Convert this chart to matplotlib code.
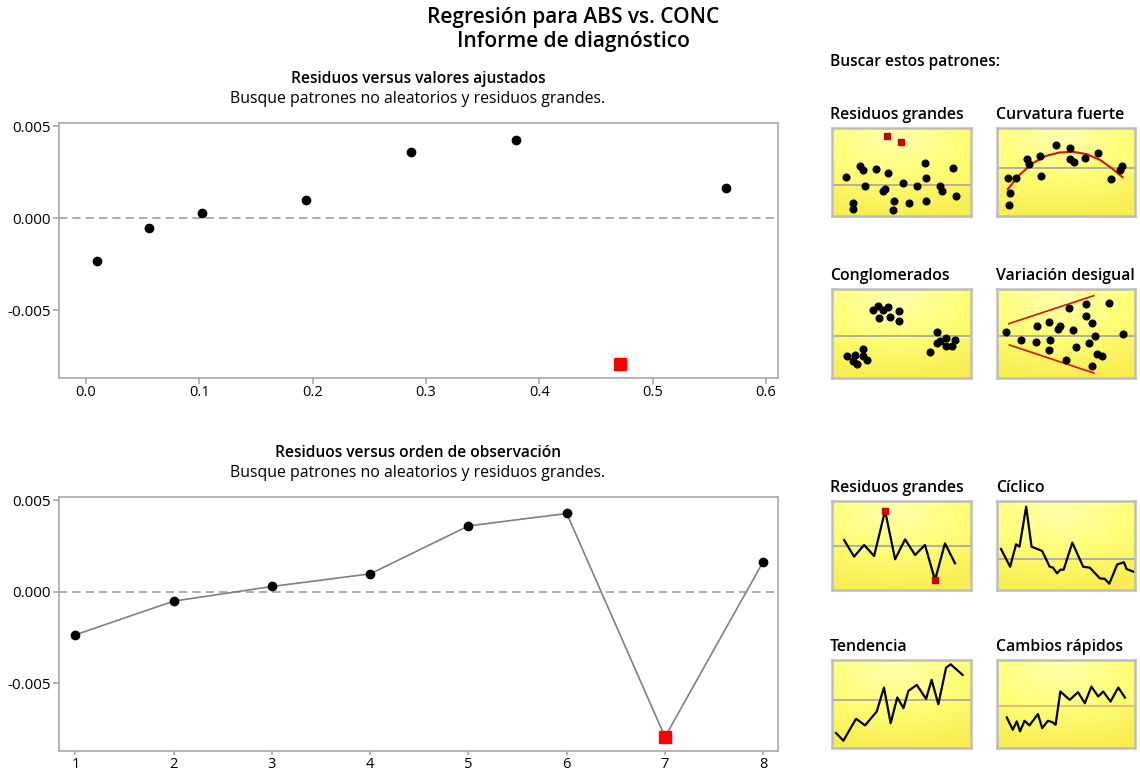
import numpy as np
import matplotlib
matplotlib.use("Agg")
import matplotlib.pyplot as plt
from matplotlib.colors import LinearSegmentedColormap

plt.rcParams['font.family'] = ['Open Sans', 'DejaVu Sans']

# Main data: residuals vs fitted values and observation order
fitted = [0.0102, 0.0561, 0.1023, 0.1943, 0.2871, 0.3795, 0.4714, 0.5647]
residuals = [-0.00235, -0.00051, 0.00029, 0.00098, 0.00360, 0.00428, -0.00793, 0.00165]
order = [1, 2, 3, 4, 5, 6, 7, 8]
large_idx = [6]  # observation flagged as large residual

# Pattern thumbnails (relative coordinates)
rg_x = [0.103, 0.156, 0.156, 0.204, 0.228, 0.240, 0.319, 0.372, 0.384, 0.408, 0.448,
        0.444, 0.511, 0.554, 0.612, 0.671, 0.679, 0.676, 0.779, 0.791, 0.871, 0.892]
rg_y = [0.441, 0.144, 0.076, 0.570, 0.525, 0.342, 0.532, 0.289, 0.304, 0.487, 0.175,
        0.068, 0.373, 0.144, 0.342, 0.601, 0.437, 0.175, 0.342, 0.289, 0.540, 0.228]
rg_red_x = [0.396, 0.501]
rg_red_y = [0.913, 0.844]

cv_x = [0.080, 0.087, 0.097, 0.140, 0.218, 0.237, 0.315, 0.320, 0.426, 0.533, 0.533,
        0.557, 0.637, 0.734, 0.823, 0.891, 0.906]
cv_y = [0.430, 0.122, 0.259, 0.433, 0.646, 0.593, 0.677, 0.456, 0.806, 0.768, 0.646,
        0.608, 0.654, 0.715, 0.426, 0.525, 0.563]
cv_curve_x = [0.080, 0.165, 0.262, 0.358, 0.455, 0.552, 0.649, 0.746, 0.831, 0.910]
cv_curve_y = [0.304, 0.468, 0.601, 0.684, 0.722, 0.730, 0.703, 0.639, 0.544, 0.441]

cl_x = [0.295, 0.336, 0.372, 0.408, 0.343, 0.420, 0.487, 0.482, 0.108, 0.168, 0.228,
        0.151, 0.185, 0.252, 0.223, 0.755, 0.707, 0.760, 0.823, 0.887, 0.823, 0.866, 0.779]
cl_y = [0.760, 0.813, 0.760, 0.798, 0.674, 0.685, 0.753, 0.637, 0.251, 0.258, 0.326,
        0.187, 0.161, 0.206, 0.243, 0.513, 0.296, 0.393, 0.446, 0.423, 0.356, 0.356, 0.416]

vd_x = [0.068, 0.177, 0.281, 0.291, 0.378, 0.383, 0.378, 0.443, 0.455, 0.499, 0.523,
        0.552, 0.571, 0.649, 0.649, 0.668, 0.692, 0.712, 0.692, 0.722, 0.758, 0.809, 0.915]
vd_y = [0.513, 0.423, 0.401, 0.581, 0.625, 0.423, 0.318, 0.551, 0.581, 0.206, 0.783,
        0.543, 0.348, 0.835, 0.693, 0.393, 0.618, 0.476, 0.139, 0.273, 0.251, 0.843, 0.498]
vd_up_x, vd_up_y = [0.087, 0.702], [0.610, 0.925]
vd_lo_x, vd_lo_y = [0.092, 0.702], [0.371, 0.056]

og_x = [0.089, 0.161, 0.233, 0.305, 0.384, 0.456, 0.528, 0.600, 0.671, 0.743, 0.815, 0.887]
og_y = [0.562, 0.375, 0.506, 0.382, 0.891, 0.345, 0.569, 0.393, 0.506, 0.112, 0.524, 0.300]
og_red = [4, 9]

cy_x = [0.031, 0.097, 0.140, 0.165, 0.213, 0.252, 0.329, 0.383, 0.407, 0.436, 0.460,
        0.484, 0.547, 0.625, 0.673, 0.746, 0.782, 0.814, 0.872, 0.920, 0.939, 0.988]
cy_y = [0.461, 0.262, 0.513, 0.487, 0.936, 0.487, 0.438, 0.262, 0.251, 0.187, 0.228,
        0.228, 0.532, 0.262, 0.251, 0.131, 0.124, 0.071, 0.288, 0.311, 0.236, 0.206]

tr_x = [0.031, 0.084, 0.175, 0.240, 0.324, 0.376, 0.424, 0.472, 0.516, 0.552, 0.612,
        0.679, 0.719, 0.767, 0.823, 0.856, 0.942]
tr_y = [0.170, 0.083, 0.332, 0.257, 0.415, 0.687, 0.283, 0.574, 0.453, 0.649, 0.717,
        0.558, 0.774, 0.498, 0.913, 0.951, 0.830]

cr_x = [0.073, 0.116, 0.145, 0.169, 0.201, 0.237, 0.298, 0.329, 0.370, 0.402, 0.426,
        0.460, 0.528, 0.588, 0.637, 0.685, 0.734, 0.770, 0.823, 0.879, 0.927]
cr_y = [0.347, 0.208, 0.302, 0.189, 0.309, 0.257, 0.385, 0.226, 0.309, 0.294, 0.264,
        0.642, 0.547, 0.634, 0.509, 0.698, 0.585, 0.642, 0.528, 0.687, 0.574]

W, H = 1140, 773
fig = plt.figure(figsize=(W / 100, H / 100), dpi=100)


def fx(px):
    return px / W


def fy(py):
    return 1 - py / H


GRID = '#A8A8A8'

fig.text(fx(573), fy(18), 'Regresión para ABS vs. CONC', ha='center', va='center',
         fontsize=15, fontweight='semibold')
fig.text(fx(573), fy(42), 'Informe de diagnóstico', ha='center', va='center',
         fontsize=15, fontweight='semibold')


def style_main(ax):
    for s in ax.spines.values():
        s.set_color(GRID)
        s.set_linewidth(1.2)
    ax.tick_params(colors=GRID, labelcolor='black', length=4, width=1.2, pad=2)
    ax.tick_params(axis='y', labelsize=11)
    ax.tick_params(axis='x', labelsize=10.5, pad=1)
    ax.axhline(0, color='#A0A0A0', lw=1.2, ls=(0, (5, 3)), zorder=1)
    ax.set_ylim(-0.0087, 0.00518)
    ax.set_yticks([-0.005, 0.0, 0.005])
    ax.set_yticklabels(['-0.005', '0.000', '0.005'])


# Top: residuals vs fitted
ax1 = fig.add_axes([fx(59), fy(378), fx(778 - 59), (378 - 123) / H])
style_main(ax1)
norm = [i for i in range(len(fitted)) if i not in large_idx]
ax1.plot([fitted[i] for i in norm], [residuals[i] for i in norm], 'o', color='black',
         ms=6, zorder=3)
ax1.plot([fitted[i] for i in large_idx], [residuals[i] for i in large_idx], 's',
         color='red', ms=8, zorder=3)
ax1.set_xlim(-0.0236, 0.6105)
ax1.set_xticks([0.0, 0.1, 0.2, 0.3, 0.4, 0.5, 0.6])
ax1.set_xticklabels(['0.0', '0.1', '0.2', '0.3', '0.4', '0.5', '0.6'])
fig.text(fx(418), fy(79), 'Residuos versus valores ajustados', ha='center', va='center',
         fontsize=11.2, fontweight='semibold')
fig.text(fx(418), fy(99), 'Busque patrones no aleatorios y residuos grandes.',
         ha='center', va='center', fontsize=11.4)

# Bottom: residuals vs order
ax2 = fig.add_axes([fx(59), fy(751), fx(778 - 59), (751 - 497) / H])
style_main(ax2)
ax2.plot(order, residuals, '-', color='#808080', lw=1.2, zorder=2)
ax2.plot([order[i] for i in norm], [residuals[i] for i in norm], 'o', color='black',
         ms=6, zorder=3)
ax2.plot([order[i] for i in large_idx], [residuals[i] for i in large_idx], 's',
         color='red', ms=8, zorder=3)
ax2.set_xlim(0.833, 8.15)
ax2.set_xticks(order)
ax2.tick_params(axis='x', length=3)
fig.text(fx(418), fy(453), 'Residuos versus orden de observación', ha='center',
         va='center', fontsize=11.2, fontweight='semibold')
fig.text(fx(418), fy(473), 'Busque patrones no aleatorios y residuos grandes.',
         ha='center', va='center', fontsize=11.4)

# Right panel
fig.text(fx(830), fy(62), 'Buscar estos patrones:', ha='left', va='center',
         fontsize=11.2, fontweight='semibold')

yel = LinearSegmentedColormap.from_list('yel', ['#FFFFAC', '#FFFF78', '#F8EE52'])
gx, gy = np.meshgrid(np.linspace(0, 1, 120), np.linspace(0, 1, 80))
grad = np.sqrt(((gx - 0.45) / 1.0) ** 2 + ((gy - 0.1) / 0.9) ** 2)


def thumb(x0, y0, x1, y1, title, midline, mid_color='#B0B0A0'):
    ax = fig.add_axes([fx(x0), fy(y1), fx(x1 - x0), (y1 - y0) / H])
    ax.imshow(grad, extent=[0, 1, 0, 1], aspect='auto', cmap=yel, origin='upper',
              vmin=0, vmax=1.0, zorder=0)
    ax.set_xlim(0, 1)
    ax.set_ylim(0, 1)
    ax.set_xticks([])
    ax.set_yticks([])
    for s in ax.spines.values():
        s.set_color('#BDBDBD')
        s.set_linewidth(1.8)
    ax.axhline(midline, color=mid_color, lw=1.4, zorder=1)
    fig.text(fx(830 if x0 < 900 else 996), fy(y0 - 13), title, ha='left', va='center',
             fontsize=11.4, fontweight='semibold')
    return ax


c1 = (831.7, 970.7)
c2 = (996.7, 1135)
r1 = (128, 216)
r2 = (289, 378)
r3 = (501, 590)
r4 = (660, 748)

ax = thumb(c1[0], r1[0], c1[1], r1[1], 'Residuos grandes', 0.357)
ax.plot(rg_x, rg_y, 'o', color='black', ms=4.8, zorder=3)
ax.plot(rg_red_x, rg_red_y, 's', color='#CC0000', ms=5, zorder=3)

ax = thumb(c2[0], r1[0], c2[1], r1[1], 'Curvatura fuerte', 0.544)
ax.plot(cv_curve_x, cv_curve_y, '-', color='#DD1010', lw=1.5, zorder=2)
ax.plot(cv_x, cv_y, 'o', color='black', ms=4.8, zorder=3)

ax = thumb(c1[0], r2[0], c1[1], r2[1], 'Conglomerados', 0.476)
ax.plot(cl_x, cl_y, 'o', color='black', ms=4.8, zorder=3)

ax = thumb(c2[0], r2[0], c2[1], r2[1], 'Variación desigual', 0.476)
ax.plot(vd_up_x, vd_up_y, '-', color='#DD1010', lw=1.2, zorder=2)
ax.plot(vd_lo_x, vd_lo_y, '-', color='#DD1010', lw=1.2, zorder=2)
ax.plot(vd_x, vd_y, 'o', color='black', ms=4.8, zorder=3)

ax = thumb(c1[0], r3[0], c1[1], r3[1], 'Residuos grandes', 0.494)
ax.plot(og_x, og_y, '-', color='black', lw=1.6, zorder=2)
ax.plot([og_x[i] for i in og_red], [og_y[i] for i in og_red], 's', color='#CC0000',
        ms=5, zorder=3)

ax = thumb(c2[0], r3[0], c2[1], r3[1], 'Cíclico', 0.345)
ax.plot(cy_x, cy_y, '-', color='black', lw=1.6, zorder=2)

ax = thumb(c1[0], r4[0], c1[1], r4[1], 'Tendencia', 0.540)
ax.plot(tr_x, tr_y, '-', color='black', lw=1.6, zorder=2)

ax = thumb(c2[0], r4[0], c2[1], r4[1], 'Cambios rápidos', 0.479, mid_color='#E8B878')
ax.plot(cr_x, cr_y, '-', color='black', lw=1.6, zorder=2)

fig.savefig('out.png', dpi=100)
